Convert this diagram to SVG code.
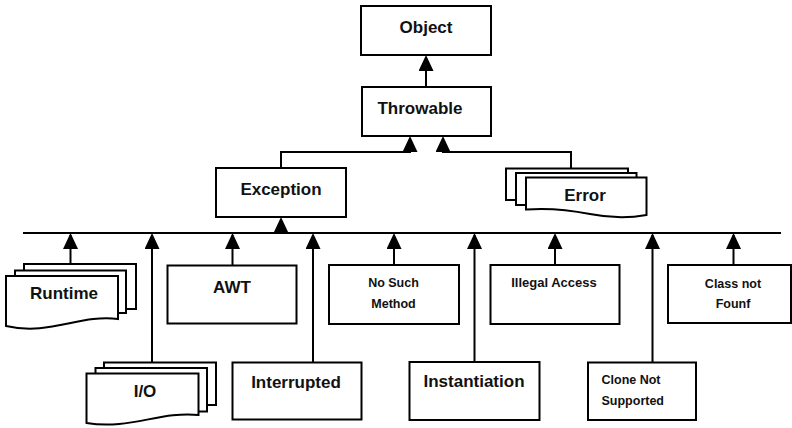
<svg xmlns="http://www.w3.org/2000/svg" width="792" height="428" viewBox="0 0 792 428">
<style>
.box{fill:#fff;stroke:#000;stroke-width:2}
.ln{fill:none;stroke:#000;stroke-width:2}
.arr{fill:none;stroke:#000;stroke-width:2;marker-end:url(#tri)}
.t{font-family:"Liberation Sans",Arial,sans-serif;font-weight:bold;font-size:17px;fill:#111;text-anchor:middle}
.s{font-family:"Liberation Sans",Arial,sans-serif;font-weight:bold;font-size:12.5px;fill:#111;text-anchor:middle}
</style>
<defs>
<marker id="tri" markerUnits="userSpaceOnUse" markerWidth="16" markerHeight="15" viewBox="0 0 16 15" refX="14" refY="7.5" orient="auto">
<path d="M0,0 L16,7.5 L0,15 Z" fill="#000"/>
</marker>
</defs>
<rect width="792" height="428" fill="#fff"/>
<g id="connectors">
<path class="arr" d="M426,87 V57"/>
<path class="arr" d="M281,168 V152 H410 V138"/>
<path class="arr" d="M571,168 V152 H443 V138"/>
<path class="ln" d="M23,233 H781"/>
<path class="arr" d="M281,233 V219"/>
<path class="arr" d="M70.5,264 V235"/>
<path class="arr" d="M152,362.5 V235"/>
<path class="arr" d="M232.5,265.5 V235"/>
<path class="arr" d="M313,362.5 V235"/>
<path class="arr" d="M394,265 V235"/>
<path class="arr" d="M474.5,362 V235"/>
<path class="arr" d="M555,265 V235"/>
<path class="arr" d="M652.5,362.5 V235"/>
<path class="arr" d="M733.5,265 V235"/>
</g>
<g id="object"><rect class="box" x="361" y="6" width="130" height="49"/><text class="t" x="426" y="33">Object</text></g>
<g id="throwable"><rect class="box" x="362" y="87" width="129" height="49"/><text class="t" x="420" y="114">Throwable</text></g>
<g id="exception"><rect class="box" x="216" y="168" width="130" height="49"/><text class="t" x="281" y="195">Exception</text></g>
<g id="error">
<rect class="box" x="506" y="168.5" width="122" height="31.5"/>
<rect class="box" x="516" y="173" width="120.5" height="32"/>
<path class="box" d="M526,177.5 H646.5 V215 C630,218 610,218 590,214 C570,210 545,208 526,209.5 Z"/>
<text class="t" x="585" y="200.5">Error</text>
</g>
<g id="runtime">
<rect class="box" x="24" y="264" width="112" height="45"/>
<rect class="box" x="15" y="270.5" width="111" height="42.5"/>
<path class="box" d="M6,276 H118 V319 C80,314 50,336 6,326 Z"/>
<text class="t" x="64" y="299">Runtime</text>
</g>
<g id="io">
<rect class="box" x="104" y="362.5" width="112" height="42.5"/>
<rect class="box" x="95.5" y="368" width="111.5" height="43.5"/>
<path class="box" d="M86.5,373.5 H198.5 V415 C160,411 130,430 86.5,423 Z"/>
<text class="t" x="145" y="397">I/O</text>
</g>
<g id="awt"><rect class="box" x="167.5" y="265.5" width="129" height="58"/><text class="t" x="232" y="292.5">AWT</text></g>
<g id="interrupted"><rect class="box" x="232.5" y="362.5" width="129" height="57"/><text class="t" x="296" y="388">Interrupted</text></g>
<g id="nosuchmethod"><rect class="box" x="329" y="265" width="130" height="59"/><text class="s" x="393.5" y="286.5">No Such</text><text class="s" x="393.5" y="307.5">Method</text></g>
<g id="instantiation"><rect class="box" x="409.5" y="362" width="130" height="58"/><text class="t" x="474" y="387">Instantiation</text></g>
<g id="illegalaccess"><rect class="box" x="490.5" y="265" width="129" height="59"/><text class="s" x="554" y="287" style="font-size:13px">Illegal Access</text></g>
<g id="clonenotsupported"><rect class="box" x="588" y="362.5" width="108" height="57.5"/><text class="s" x="601.5" y="384" text-anchor="start" style="text-anchor:start">Clone Not</text><text class="s" x="601.5" y="405" style="text-anchor:start">Supported</text></g>
<g id="classnotfound"><rect class="box" x="668" y="265" width="123" height="58"/><text class="s" x="733" y="287.5">Class not</text><text class="s" x="733" y="308">Founf</text></g>
</svg>
